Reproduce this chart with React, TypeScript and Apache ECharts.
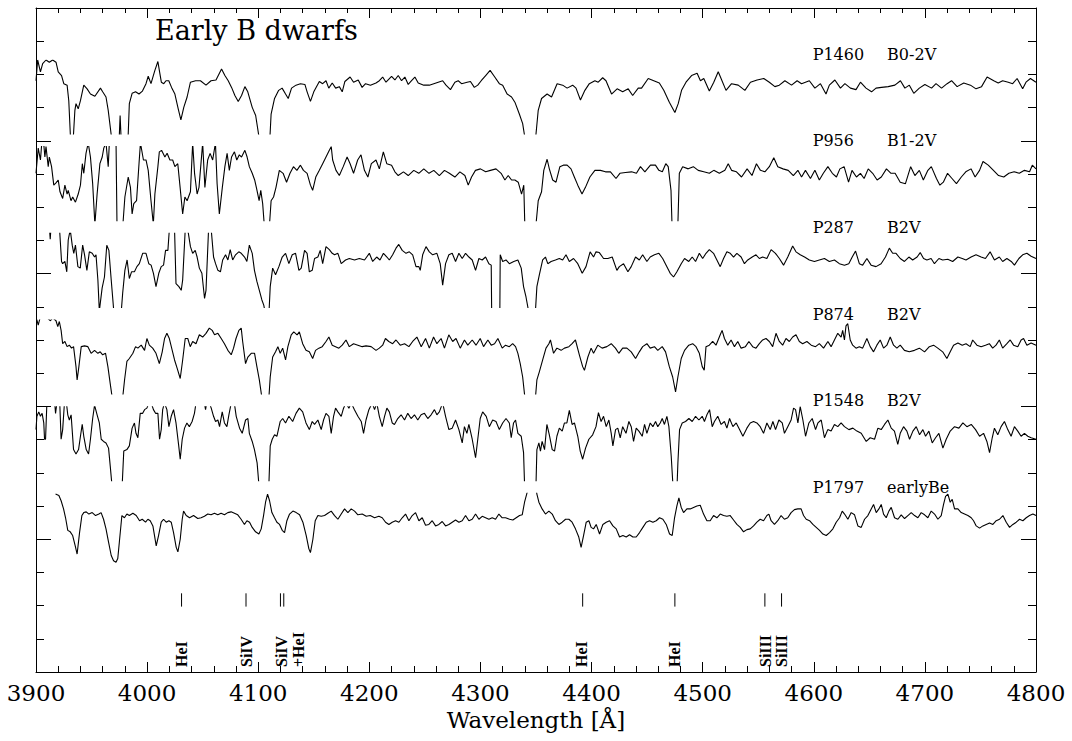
import React, { useEffect, useRef } from "react";
import * as echarts from "echarts";

// Wavelength range (Angstrom)
const WL_MIN = 3900;
const WL_MAX = 4800;

// Star labels
const STAR_NAMES = ["P1460", "P956", "P287", "P874", "P1548", "P1797"];
const STAR_TYPES = ["B0-2V", "B1-2V", "B2V", "B2V", "B2V", "earlyBe"];

// Spectral line markers
const LINE_WL = [4031, 4089, 4120, 4123, 4392, 4475, 4556, 4571];
const LINE_LABELS: [number, string][] = [
  [4031, "HeI"], [4089.4, "SiIV"], [4120.7, "SiIV"], [4136, "+HeI"],
  [4390.5, "HeI"], [4474.6, "HeI"], [4556.4, "SiIII"], [4570.9, "SiIII"],
];

// Relative flux within each plotting window (0 = lower clip, 1 = upper clip)
const P1460: [number, number][] = [
  [3900,.72],[3901.5,1.0],[3904,.84],[3906,.95],[3909,1.0],[3912,.97],[3915,1.0],[3918,.97],[3920,.84],[3923,.79],[3925,.68],[3928,.66],[3929.5,.45],[3931.5,-.2],[3933,-.2],[3935,.32],[3936,.41],[3938,.34],[3940,.45],[3943,.66],[3946,.61],[3949,.54],[3953,.51],[3958,.62],[3960,.57],[3963,.50],[3965,.32],[3968,-.05],[3970,-.2],[3974.5,-.2],[3975.7,.25],[3977,-.2],[3982.5,-.2],[3984,.41],[3986.5,.55],[3989.6,.57],[3992.7,.54],[3995.8,.58],[3999,.68],[4001,.78],[4003.5,.68],[4005.6,.79],[4007,.86],[4009.7,.98],[4011,.86],[4012.8,.70],[4015,.68],[4017,.72],[4019.5,.72],[4022,.63],[4025,.54],[4028,.34],[4030.4,.19],[4033,.36],[4036,.50],[4039,.70],[4043.6,.72],[4048,.72],[4053,.66],[4057.5,.72],[4062,.73],[4067,.88],[4070,.79],[4073,.72],[4076,.63],[4079,.52],[4082,.44],[4085,.52],[4088,.64],[4090.6,.57],[4094.6,.36],[4097.7,.25],[4100.8,-.05],[4102,-.2],[4110,-.2],[4111.6,.27],[4114.7,.48],[4118.4,.59],[4121.5,.62],[4124.6,.54],[4127,.48],[4130,.62],[4134,.66],[4138,.68],[4142,.67],[4144,.57],[4147,.44],[4150,.57],[4155,.71],[4158,.68],[4161,.72],[4163.5,.62],[4166.6,.69],[4169.7,.62],[4173,.64],[4175.6,.57],[4178,.71],[4182.7,.77],[4185.8,.70],[4190,.73],[4193.5,.63],[4196.6,.68],[4201,.66],[4206,.69],[4209,.72],[4212,.77],[4215,.70],[4220,.78],[4223,.73],[4226,.79],[4229,.72],[4232,.77],[4235,.67],[4238,.72],[4241,.77],[4244,.69],[4249,.66],[4254,.66],[4260,.69],[4266,.72],[4269,.66],[4273,.60],[4277,.70],[4280,.72],[4283,.68],[4288,.70],[4291,.71],[4294.5,.63],[4297.6,.66],[4300.7,.72],[4304.7,.79],[4308.7,.86],[4312.4,.78],[4317,.68],[4320,.66],[4324,.54],[4328,.50],[4331,.43],[4335,.27],[4338,.14],[4340,-.05],[4342,-.2],[4349,-.2],[4350,0],[4352,.32],[4355,.48],[4360,.54],[4364,.50],[4369,.68],[4374,.66],[4378,.62],[4383,.66],[4386,.62],[4390,.46],[4394,.59],[4398,.68],[4403,.72],[4406,.70],[4410,.76],[4413,.72],[4418,.54],[4423,.61],[4428,.57],[4433,.61],[4437,.52],[4442,.62],[4445,.62],[4451,.75],[4456,.72],[4461,.69],[4465,.59],[4470,.43],[4475,.29],[4478,.41],[4481,.59],[4485,.70],[4490,.79],[4495,.82],[4498,.72],[4501,.75],[4506,.58],[4510,.70],[4514,.84],[4516,.77],[4521,.59],[4526,.68],[4532,.66],[4538,.59],[4543,.70],[4549,.73],[4555,.75],[4560,.70],[4565,.64],[4569,.66],[4574,.72],[4580,.66],[4585,.72],[4589,.68],[4596,.72],[4601,.62],[4606,.68],[4611,.54],[4614,.66],[4619,.73],[4624,.62],[4628,.68],[4633,.62],[4638,.60],[4642,.70],[4647,.62],[4652,.57],[4656,.62],[4661,.63],[4667,.64],[4673,.66],[4678,.72],[4682,.62],[4686,.66],[4690,.55],[4695,.62],[4700,.67],[4706,.62],[4710,.68],[4715,.62],[4720,.68],[4724,.72],[4729,.64],[4735,.69],[4741,.66],[4746,.61],[4751,.64],[4756,.77],[4762,.72],[4766,.69],[4770,.72],[4775,.70],[4779,.68],[4783,.75],[4788,.61],[4791,.70],[4795,.75],[4800,.70],
];

const P956: [number, number][] = [
  [3900,.64],[3902,.98],[3904,.82],[3906,1.2],[3908,.86],[3909,1.0],[3911,.73],[3912,.86],[3914,.73],[3916,.48],[3918,.51],[3920,.55],[3921.6,.39],[3924,.30],[3926,.48],[3928,.36],[3929,.41],[3931.5,.27],[3933,.32],[3935.5,.25],[3938,.36],[3940,.48],[3941.7,.77],[3943,.64],[3945,.91],[3947,1.05],[3949,.86],[3951,.50],[3953,-.05],[3955,.36],[3957.5,.77],[3959.6,.86],[3961,.98],[3963,1.05],[3965,.73],[3966,1.05],[3968,1.05],[3972,1.1],[3973,-.2],[3977.5,-.2],[3980,.32],[3983,.59],[3985,.45],[3986.5,.09],[3988,.23],[3990.5,.27],[3992.7,.77],[3994,1.05],[3996.7,.82],[3999,.82],[4001,.68],[4003.5,.27],[4005.6,-.05],[4007,.36],[4009.7,.73],[4011,.93],[4013,.95],[4016,.86],[4018,.91],[4020.5,.82],[4023,.82],[4025,.73],[4027.6,.77],[4029.7,.45],[4032,.09],[4034,.32],[4036,.27],[4039,.39],[4041,1.05],[4042.7,.64],[4045,.36],[4046.7,.45],[4050,1.05],[4052,.45],[4054.5,.82],[4056.7,.91],[4059,.82],[4061.5,1.05],[4063,.50],[4065,.09],[4067.7,.45],[4070,.73],[4072,.91],[4074,.68],[4076,.86],[4078.6,.93],[4080.7,.82],[4083,.89],[4085,.86],[4088,.95],[4090,.86],[4092,.73],[4094.6,.64],[4096.8,.55],[4098.6,.43],[4100.8,.27],[4102.3,.41],[4104,.23],[4105.4,-.05],[4107,-.2],[4109.5,-.2],[4111.6,.27],[4113.8,.32],[4116,.45],[4119,.68],[4122.4,.64],[4125.5,.52],[4128.6,.64],[4131.7,.73],[4134.8,.68],[4138,.75],[4140.7,.68],[4144,.64],[4147,.48],[4149,.41],[4151.8,.59],[4155,.68],[4158,.77],[4161,.86],[4164,.95],[4165.7,1.0],[4167,.82],[4170,.68],[4173,.61],[4176.5,.73],[4180,.86],[4182.7,.77],[4185.8,.64],[4189.5,.82],[4192.5,.89],[4195.6,.68],[4198.7,.59],[4201.8,.77],[4206,.82],[4209,.70],[4212.6,.93],[4215.7,.77],[4220,.75],[4223,.66],[4226,.61],[4230.7,.66],[4235,.61],[4240,.68],[4244.5,.64],[4249,.70],[4253.7,.64],[4258,.68],[4263,.61],[4267.6,.68],[4272,.64],[4277,.59],[4281.5,.66],[4286,.61],[4289,.48],[4292,.59],[4295.5,.68],[4300,.70],[4304.7,.66],[4309,.68],[4314,.70],[4318.6,.64],[4322,.55],[4325,.61],[4328,.55],[4331,.55],[4334,.52],[4337,.36],[4339,.48],[4340,-.1],[4342,-.2],[4349,-.2],[4350,-.05],[4352,.27],[4355,.39],[4357,.68],[4360,.83],[4362,.70],[4365,.55],[4368,.52],[4371.5,.73],[4374.6,.75],[4378,.75],[4381.5,.70],[4384.5,.59],[4387.6,.48],[4391.4,.36],[4394.5,.45],[4398.5,.59],[4403,.68],[4408,.68],[4412.5,.66],[4417,.66],[4422,.57],[4425.5,.64],[4430.5,.65],[4436,.66],[4440.4,.64],[4444,.73],[4448,.66],[4453,.75],[4457.5,.75],[4460.6,.68],[4463.7,.66],[4466.8,.77],[4469,.73],[4471.5,.41],[4472.5,-.1],[4474,-.3],[4477,-.3],[4477.7,-.05],[4479,.64],[4482,.73],[4487,.70],[4491.6,.73],[4496,.68],[4501,.66],[4506,.64],[4510,.68],[4515,.64],[4520,.68],[4523,.77],[4526,.68],[4530.4,.66],[4535,.59],[4540,.70],[4544.4,.61],[4548.4,.77],[4552,.68],[4556,.66],[4560,.73],[4564,.85],[4567.6,.73],[4572.3,.70],[4577,.68],[4581.6,.61],[4585.7,.68],[4589,.59],[4592.5,.68],[4597,.57],[4601,.68],[4605,.55],[4608.6,.64],[4612.7,.73],[4616.7,.64],[4620.4,.59],[4623.5,.70],[4627.3,.73],[4631.3,.52],[4634.4,.68],[4638.4,.59],[4642,.64],[4645.3,.57],[4649,.70],[4653,.64],[4657,.55],[4660.8,.59],[4665.4,.70],[4669.5,.64],[4673.2,.64],[4677.8,.52],[4682.5,.50],[4687.2,.73],[4691,.61],[4695,.68],[4698.6,.55],[4702.7,.68],[4705.8,.73],[4710.4,.57],[4713.5,.48],[4716.6,.52],[4720.4,.64],[4724.4,.57],[4728.4,.50],[4732.8,.59],[4736.8,.66],[4741.5,.70],[4745.2,.59],[4749.2,.68],[4752.3,.80],[4757,.75],[4761.7,.68],[4766.3,.61],[4771,.59],[4775.6,.64],[4780.3,.66],[4785,.64],[4789.6,.68],[4794.2,.66],[4796.7,.75],[4800,.70],
];

const P287: [number, number][] = [
  [3900,1.2],[3911.5,1.2],[3912.8,.92],[3914,1.2],[3920.6,1.2],[3923,.62],[3924,.59],[3926,.62],[3927.7,.48],[3929,.91],[3930.8,1.05],[3932.6,.84],[3934,.73],[3935.5,.84],[3937.7,.55],[3939.8,.53],[3942,.84],[3943.7,.71],[3945.8,.50],[3948,.75],[3950.6,.73],[3952.7,.68],[3954,.71],[3955.7,.37],[3957,-.05],[3959.5,.26],[3961.6,.41],[3963.7,.84],[3965.6,.77],[3967.7,.37],[3970,-.05],[3972,-.2],[3976,-.2],[3978,.19],[3980,.50],[3982,.64],[3984,.39],[3986,.48],[3988.6,.48],[3990.8,.55],[3993,.59],[3996,.73],[3999,.73],[4001.5,.59],[4003.6,.57],[4005.7,.46],[4008,.28],[4010.5,.46],[4012.7,.55],[4014.8,.57],[4016.6,.77],[4018.7,.77],[4020,1.05],[4021.7,1.2],[4024.7,1.05],[4026,.32],[4028.6,.28],[4030.7,.23],[4032,.37],[4034.3,1.05],[4036.6,1.05],[4039,.82],[4041,.73],[4043.3,.77],[4045,.68],[4047,.53],[4049.3,.46],[4051.7,.12],[4053,.23],[4055.3,1.05],[4057.7,1.05],[4059.8,.68],[4061.6,.59],[4063.7,.50],[4066,.48],[4068,.64],[4070.6,.71],[4072.7,.64],[4074.8,.78],[4077,.64],[4079.6,.71],[4082.5,.75],[4084.7,.73],[4087.7,.68],[4089.8,.62],[4092,.84],[4094.6,.73],[4096.6,.50],[4098.8,.35],[4101,.23],[4103.3,.10],[4105,.03],[4106.6,-.1],[4108,-.2],[4109.6,-.1],[4110.8,.28],[4113,.53],[4115.6,.44],[4118.6,.55],[4121.6,.68],[4124.6,.73],[4127.6,.59],[4130.6,.71],[4133.6,.73],[4136.6,.50],[4138.7,.53],[4141.7,.77],[4144,.73],[4146,.48],[4148.6,.50],[4150.7,.66],[4153.7,.68],[4155.8,.77],[4158,.59],[4161,.82],[4164,.78],[4166.6,.73],[4168.7,.71],[4171.7,.73],[4174.7,.59],[4178.6,.64],[4182,.66],[4186.7,.64],[4191,.66],[4195.7,.64],[4200,.73],[4203,.62],[4206.6,.68],[4209.6,.64],[4212.7,.73],[4215.8,.68],[4218,.64],[4221,.71],[4224,.80],[4226.5,.85],[4229.6,.77],[4233,.73],[4236,.75],[4239,.71],[4242,.55],[4244.6,.55],[4245.8,.50],[4248,.71],[4251,.82],[4254,.75],[4257,.71],[4260.8,.73],[4263.8,.59],[4266,.30],[4268.6,.59],[4271.6,.71],[4274.6,.73],[4277.6,.62],[4280.6,.73],[4283.6,.66],[4286.6,.73],[4289.6,.68],[4292.6,.64],[4295.6,.50],[4298.6,.66],[4301.6,.64],[4304.6,.68],[4307.6,.59],[4309.7,.57],[4310.2,-.2],[4317.4,-.2],[4317.8,.71],[4320,.62],[4323,.64],[4326,.59],[4330,.62],[4333.7,.64],[4336.7,.53],[4338.8,.28],[4341,.14],[4343.3,-.05],[4345,-.2],[4349,-.2],[4349.5,-.05],[4350.8,.28],[4353,.44],[4356,.64],[4358.5,.68],[4360.6,.59],[4363.6,.62],[4367.5,.64],[4371,.66],[4374,.64],[4377,.71],[4380,.62],[4383.8,.66],[4387.6,.59],[4391.6,.46],[4395,.55],[4398.7,.75],[4401.8,.68],[4404,.75],[4407,.74],[4410.8,.66],[4414.7,.66],[4418.6,.68],[4422.8,.50],[4425,.55],[4428.8,.59],[4432.7,.48],[4435.7,.55],[4439.6,.68],[4443,.64],[4446,.71],[4449.8,.62],[4452.8,.68],[4456.6,.71],[4460.6,.73],[4464,.66],[4467.8,.55],[4470.8,.46],[4473.8,.41],[4476.8,.48],[4480.7,.59],[4483.7,.66],[4487.5,.62],[4490.6,.68],[4493.6,.62],[4497,.73],[4500,.66],[4503,.73],[4506,.78],[4509.8,.73],[4512.8,.64],[4515.8,.55],[4518.8,.66],[4521.8,.75],[4524.8,.73],[4527.8,.68],[4530.8,.73],[4534.6,.68],[4537.6,.59],[4540.6,.64],[4544.6,.68],[4548,.71],[4551,.66],[4554,.68],[4557.8,.66],[4561.6,.78],[4565.5,.73],[4569,.66],[4572.8,.57],[4576.6,.68],[4581,.83],[4584,.75],[4587.8,.71],[4591.7,.68],[4596,.64],[4600.6,.62],[4605,.64],[4609.6,.66],[4614,.62],[4618.6,.64],[4623,.59],[4627.6,.57],[4631.5,.59],[4634.6,.68],[4637.6,.76],[4641,.59],[4644,.57],[4647.8,.66],[4651.6,.57],[4656,.55],[4660.6,.59],[4664.5,.68],[4668,.80],[4671,.73],[4674,.73],[4677.8,.66],[4681.6,.62],[4685.6,.68],[4689,.64],[4693,.68],[4695.8,.74],[4698.8,.66],[4701.8,.64],[4705.6,.66],[4708.6,.59],[4712.6,.66],[4716,.64],[4720.6,.65],[4725,.62],[4729.7,.68],[4733.6,.66],[4737,.64],[4741.6,.68],[4746,.71],[4750.6,.68],[4754.5,.66],[4758.7,.75],[4762.6,.64],[4767,.68],[4770,.62],[4773.8,.66],[4777.7,.62],[4780.6,.57],[4784.6,.66],[4788,.71],[4791.8,.73],[4795.6,.69],[4800,.66],
];

const P874: [number, number][] = [
  [3900,1.05],[3902,.93],[3904,1.05],[3910,1.03],[3913,.99],[3915,1.03],[3918,.99],[3919.6,.91],[3921,.98],[3922.6,.86],[3924,.68],[3926,.71],[3928,.64],[3930,.66],[3932,.62],[3933.8,.64],[3936,.37],[3937,.19],[3938.6,.37],[3940.7,.64],[3943.7,.65],[3946.7,.64],[3949.6,.55],[3952.7,.59],[3955.7,.55],[3957.8,.57],[3960,.53],[3962.6,.55],[3964.7,.37],[3966.8,.14],[3968.6,-.05],[3970,-.2],[3977,-.2],[3978,-.05],[3979.7,.19],[3981.8,.44],[3984,.48],[3987.2,.55],[3989.6,.64],[3991.7,.62],[3994.7,.66],[3997.7,.59],[3999.8,.75],[4002,.66],[4005,.62],[4008,.55],[4011,.41],[4013.6,.57],[4015.7,.75],[4017.8,.82],[4020,.75],[4022.6,.59],[4024.7,.46],[4027,.35],[4029.8,.21],[4032,.46],[4034.3,.75],[4036.6,.75],[4038.8,.64],[4041,.71],[4044,.68],[4047,.80],[4050,.77],[4053,.82],[4056,.89],[4058.6,.86],[4060.7,.80],[4063.7,.82],[4066.7,.75],[4069.6,.68],[4072.7,.59],[4075.7,.53],[4077.8,.62],[4080,.75],[4082.6,.86],[4084.7,.89],[4086,.71],[4088.6,.41],[4090.7,.50],[4093.7,.55],[4096.7,.55],[4098.8,.37],[4101,.19],[4103.3,-.05],[4105,-.2],[4109,-.2],[4109.6,-.05],[4110.8,.23],[4113,.50],[4115.6,.57],[4117.7,.64],[4119.8,.55],[4122,.62],[4124.6,.46],[4126.7,.64],[4129.7,.80],[4132,.84],[4135,.80],[4137,.84],[4140,.68],[4143,.59],[4146,.57],[4149,.48],[4151.6,.59],[4154.6,.62],[4157.6,.64],[4161,.71],[4163.6,.77],[4166.6,.66],[4169.6,.64],[4172.6,.62],[4175.6,.66],[4179,.73],[4182,.64],[4185.8,.68],[4189.7,.66],[4193.6,.64],[4197,.65],[4201.6,.64],[4206,.59],[4209,.62],[4212,.66],[4214.5,.75],[4217.5,.71],[4221,.68],[4224,.73],[4227.8,.66],[4231.7,.68],[4235.6,.64],[4239,.71],[4242.8,.77],[4246.7,.64],[4250.6,.75],[4254,.62],[4257.8,.77],[4260.8,.68],[4264.6,.75],[4267.6,.62],[4271.5,.80],[4275,.71],[4278,.75],[4281.8,.62],[4285.6,.73],[4288.6,.66],[4292.6,.73],[4296,.66],[4299.8,.75],[4302.8,.64],[4306.7,.73],[4309.7,.66],[4312.7,.68],[4315.7,.75],[4319.6,.62],[4322.6,.66],[4326,.64],[4329,.68],[4331.6,.64],[4333.7,.55],[4335.8,.41],[4338,.23],[4340,-.05],[4342,-.2],[4349,-.2],[4349.5,-.05],[4350.8,.19],[4353,.30],[4356,.46],[4359,.62],[4361.6,.68],[4363,.73],[4365.8,.55],[4368.8,.62],[4372.6,.59],[4375.6,.62],[4379.6,.64],[4382.5,.68],[4385.5,.73],[4389,.53],[4392,.37],[4393.6,.32],[4396.7,.50],[4399.6,.62],[4401.8,.55],[4405.6,.66],[4409.5,.62],[4413.8,.64],[4417.7,.68],[4421.5,.62],[4424.5,.55],[4428,.62],[4431.8,.62],[4435.7,.57],[4439.6,.48],[4443,.57],[4446,.64],[4449.8,.68],[4452.8,.62],[4456.6,.64],[4459.6,.59],[4463.6,.64],[4466.6,.57],[4470,.37],[4473,.23],[4475.6,.03],[4477.7,.23],[4480.7,.48],[4483.7,.59],[4487.5,.66],[4491,.68],[4494,.64],[4497,.55],[4499.6,.37],[4501.4,.32],[4503,.64],[4506,.66],[4509,.71],[4512,.66],[4515.8,.80],[4517.5,.86],[4519.6,.75],[4522.6,.66],[4525.6,.73],[4528.6,.64],[4531.6,.71],[4534.6,.62],[4538.5,.64],[4541.6,.71],[4545,.64],[4548,.62],[4551,.68],[4554,.73],[4557,.75],[4560,.71],[4563,.64],[4566,.82],[4569,.71],[4572,.66],[4575,.75],[4578,.71],[4581,.77],[4584,.80],[4587,.71],[4590,.68],[4593.8,.71],[4597.7,.66],[4601.6,.64],[4605,.68],[4608.8,.62],[4612.7,.71],[4615.6,.64],[4618.6,.73],[4621.6,.82],[4624.6,.77],[4626,.86],[4627.6,.73],[4629,.92],[4630.6,.95],[4632.8,.73],[4635,.66],[4638,.62],[4641,.64],[4644,.62],[4647.8,.75],[4650.8,.64],[4653.8,.57],[4656.8,.66],[4659.8,.73],[4662.8,.62],[4665.8,.66],[4668.8,.77],[4671.8,.66],[4674.8,.62],[4677.8,.66],[4681.6,.59],[4686,.57],[4690.6,.59],[4695,.62],[4699.7,.57],[4704,.64],[4707.8,.66],[4711.6,.62],[4716,.57],[4719.8,.48],[4722.8,.57],[4725.8,.66],[4729.7,.69],[4733.6,.66],[4737,.68],[4740.8,.64],[4743,.73],[4746.8,.66],[4750.6,.64],[4754.5,.66],[4758,.68],[4761,.62],[4764,.66],[4767,.73],[4770,.62],[4773.8,.68],[4776.8,.73],[4779.8,.66],[4783.6,.64],[4786.6,.73],[4788.8,.75],[4791.8,.66],[4795.6,.69],[4800,.66],
];

const P1548: [number, number][] = [
  [3900,.69],[3900.8,.87],[3902.5,.93],[3904,.87],[3905.5,.91],[3907,.78],[3907.7,.56],[3908.6,.56],[3909.8,1.05],[3912,1.2],[3916,1.2],[3917.6,.91],[3918.8,1.05],[3921,1.2],[3922.6,.56],[3924,.69],[3925.6,1.05],[3927,1.1],[3928.6,.89],[3930,.82],[3931.6,.89],[3933.8,.42],[3936,.36],[3938.3,.42],[3940,.60],[3941.6,.76],[3943,.60],[3945.2,.42],[3947.3,.36],[3949,.56],[3951,.84],[3952.7,1.02],[3955,.89],[3957,.78],[3958.7,.56],[3960.8,.53],[3963,.51],[3965.3,.44],[3966.8,.20],[3968.3,-.05],[3970,-.2],[3977,-.2],[3977.6,-.05],[3979,.40],[3981.8,.42],[3984,.47],[3986.5,.71],[3988.6,.78],[3990,.64],[3991.7,.58],[3993.8,.91],[3996,.91],[3997.7,.96],[3999.8,.98],[4001.6,1.05],[4003.7,1.05],[4005.7,.96],[4007.6,.91],[4009.7,.91],[4011.2,.56],[4012.7,.69],[4014,.96],[4015.6,1.05],[4017.8,.96],[4019.6,.73],[4021.7,.87],[4023.8,.96],[4026,.78],[4028.3,.49],[4029.8,.29],[4031.6,.56],[4033.7,.71],[4035.8,.78],[4038,.73],[4040.5,.80],[4042.6,.91],[4044,1.05],[4048,1.2],[4051.5,1.05],[4052.6,.96],[4053.6,1.05],[4056,1.05],[4057.7,.98],[4059.8,.87],[4061.6,.80],[4063.7,.82],[4065.2,.73],[4067.6,.93],[4069.6,.78],[4071.8,.73],[4073.6,.89],[4075.7,1.05],[4078,1.1],[4080.2,.87],[4083.2,.71],[4085.6,.64],[4088.6,.82],[4090.7,.84],[4092,.64],[4094.6,.53],[4096.6,.42],[4099,.24],[4100.6,-.05],[4102,-.2],[4109,-.2],[4109.6,-.05],[4110.8,.47],[4112.6,.56],[4114.7,.62],[4116.8,.60],[4119.8,.80],[4122,.84],[4124.6,.78],[4127.6,.87],[4131,.80],[4134,.91],[4137,.98],[4140,.93],[4143,.78],[4146,.69],[4148.6,.80],[4150.7,.76],[4153.7,.82],[4156.7,.69],[4158.8,.82],[4161,.91],[4163.6,.87],[4165.7,.64],[4167.8,.87],[4169.6,.98],[4171.7,.93],[4174.7,.87],[4176.8,.98],[4179,1.05],[4181.6,.98],[4183.7,1.05],[4186.6,.96],[4189.7,.87],[4192.7,.80],[4194.8,.64],[4197,.82],[4199.6,.96],[4202.6,1.05],[4204.7,.96],[4206.7,1.05],[4209,.87],[4211.6,.73],[4213.7,.87],[4215.8,.98],[4218,.93],[4220.6,.78],[4222.6,.76],[4225.6,.84],[4228.6,.89],[4231.7,.82],[4234.6,.91],[4237.6,.84],[4240.6,.89],[4243.6,.82],[4246.6,.89],[4249.6,.91],[4252.6,.84],[4255.6,.89],[4258.6,.96],[4260.8,.89],[4263,.93],[4266,1.05],[4268.6,.87],[4271.6,.69],[4274.6,.71],[4277.6,.82],[4280.6,.69],[4283.6,.51],[4285.6,.73],[4287.8,.64],[4289.6,.76],[4292.6,.56],[4295.6,.31],[4297.6,.56],[4299.8,.84],[4302,.93],[4305.2,.87],[4308,.73],[4311,.82],[4314,.80],[4317,.69],[4320,.78],[4323,.84],[4326,.78],[4327.7,.58],[4329.8,.78],[4331.6,.82],[4333.7,.64],[4336.7,.60],[4338.8,.38],[4339.7,-.05],[4341,-.2],[4349.5,-.2],[4350,-.05],[4350.8,.42],[4352.6,.51],[4354,.40],[4355.5,.53],[4357.7,.42],[4359.8,.76],[4362,.62],[4364.6,.42],[4366.7,.40],[4368.8,.60],[4371,.71],[4373.6,.67],[4375.6,.78],[4377.8,.78],[4380,.95],[4382.5,.76],[4384.6,.78],[4387.6,.60],[4389.8,.40],[4392,.29],[4394.6,.44],[4397.6,.56],[4401,.62],[4404,.73],[4406.2,.92],[4408.6,.80],[4410.8,.87],[4413.2,.73],[4415.6,.82],[4417.7,.64],[4419.2,.47],[4421.6,.69],[4423.6,.71],[4425.8,.58],[4428,.73],[4431,.64],[4433.6,.80],[4435.7,.73],[4437.8,.53],[4440.2,.71],[4442.6,.67],[4445.6,.60],[4447.7,.76],[4449.8,.64],[4452.8,.78],[4455.2,.73],[4457.6,.80],[4459.6,.73],[4461.8,.78],[4463.6,.84],[4465.6,.76],[4467.8,.87],[4469.6,.73],[4471.7,.33],[4473.2,-.05],[4474.5,-.3],[4476,-.3],[4477,-.05],[4477.7,.24],[4479.2,.69],[4481.6,.78],[4484.6,.80],[4487.6,.84],[4490.6,.80],[4493.6,.87],[4496.6,.82],[4499.6,.87],[4501.6,.80],[4503.8,.89],[4506.2,.96],[4508.6,.73],[4510.6,.80],[4513.6,.87],[4516.6,.76],[4519.6,.80],[4521.8,.71],[4524.2,.84],[4527.2,.73],[4530.2,.78],[4533.2,.69],[4536.2,.60],[4539.8,.71],[4542.8,.78],[4545.8,.80],[4548.8,.78],[4551.8,.73],[4554.8,.64],[4557.8,.78],[4560.8,.69],[4563.2,.80],[4565.6,.69],[4568.6,.82],[4571.6,.78],[4573.6,.64],[4576.6,.73],[4579.6,.82],[4581.8,.98],[4583.6,.96],[4585.7,.78],[4587.8,1.0],[4590.2,.82],[4592.6,.60],[4595.6,.78],[4598.6,.84],[4601.6,.69],[4603.7,.78],[4606.7,.82],[4609.6,.58],[4612.6,.69],[4615.6,.67],[4618.6,.76],[4621.6,.73],[4624.6,.78],[4627.6,.73],[4631.6,.69],[4635.2,.71],[4638.8,.67],[4642.7,.64],[4647.2,.53],[4650.8,.58],[4654.7,.56],[4657.7,.71],[4660.7,.69],[4663.7,.76],[4666.7,.82],[4669.7,.71],[4672.6,.67],[4675.6,.49],[4677.8,.64],[4680.8,.73],[4683.8,.67],[4686.2,.56],[4689.2,.67],[4692.2,.73],[4695.2,.62],[4698.2,.69],[4700.6,.60],[4703.6,.67],[4706.6,.51],[4709.6,.58],[4712.6,.64],[4716.2,.44],[4719.2,.56],[4722.8,.67],[4726.7,.73],[4730.6,.71],[4734.2,.78],[4737.8,.73],[4741.7,.76],[4745.6,.69],[4749.2,.60],[4752.8,.64],[4755.8,.53],[4758.2,.38],[4760.6,.58],[4762.6,.71],[4765.6,.62],[4768.6,.73],[4771.6,.80],[4774.6,.69],[4777.6,.60],[4780.6,.73],[4783.6,.67],[4786.6,.60],[4789.6,.64],[4792.6,.60],[4795.6,.58],[4800,.56],
];

const P1797: [number, number][] = [
  [3917.6,.99],[3920.6,.97],[3922.6,.90],[3924.8,.79],[3926.6,.67],[3928.6,.50],[3930.8,.48],[3933,.43],[3935.3,.29],[3937,.18],[3939.2,.47],[3941.3,.70],[3943,.74],[3945.2,.75],[3947.6,.72],[3950.6,.74],[3953.6,.70],[3956.6,.72],[3958.6,.74],[3960.8,.65],[3963,.52],[3965.3,.34],[3967.7,.16],[3969.8,.09],[3972,.07],[3973.6,.12],[3975,.34],[3977.3,.70],[3979.6,.67],[3981.8,.72],[3984,.70],[3987.2,.73],[3990.2,.70],[3993.2,.63],[3995.6,.65],[3998.6,.61],[4000.7,.65],[4002.8,.63],[4005.2,.56],[4008.2,.29],[4010.3,.43],[4012.7,.61],[4014.8,.65],[4017.2,.61],[4019.6,.63],[4021.7,.61],[4023.8,.47],[4026.2,.27],[4027.7,.21],[4029.8,.38],[4031.6,.65],[4032.8,.76],[4035.2,.70],[4038.2,.67],[4041.8,.70],[4045.6,.66],[4048.6,.67],[4051.6,.69],[4054.6,.72],[4057.6,.71],[4060.6,.73],[4063.6,.71],[4066.6,.73],[4069.6,.71],[4072.6,.74],[4075.6,.75],[4078.6,.73],[4081.6,.71],[4084.6,.65],[4087.6,.58],[4089.8,.63],[4092.2,.61],[4094.6,.54],[4097.6,.48],[4100.6,.45],[4102.7,.52],[4104.8,.70],[4106.6,.88],[4108.4,.99],[4110.2,.90],[4112.3,.74],[4114.7,.67],[4116.8,.61],[4119.2,.58],[4121.6,.50],[4123.7,.47],[4125.8,.63],[4128.2,.72],[4131.2,.76],[4134.2,.74],[4137.2,.71],[4140.2,.61],[4143.2,.43],[4145.6,.25],[4147,.20],[4149.2,.38],[4151.3,.63],[4153.7,.70],[4156.7,.69],[4159.7,.70],[4162.7,.73],[4165.7,.76],[4168.7,.70],[4171.7,.65],[4174.7,.72],[4177.7,.79],[4180.7,.74],[4183.7,.79],[4186.7,.76],[4189.7,.71],[4193.6,.72],[4197.2,.69],[4200.8,.70],[4204.7,.67],[4208.6,.69],[4211.6,.67],[4214.6,.61],[4217.6,.58],[4220.6,.61],[4223.6,.63],[4226.6,.61],[4229.6,.67],[4232.6,.72],[4235.6,.63],[4238.6,.70],[4241.6,.74],[4244.6,.63],[4247.6,.67],[4250.6,.57],[4253.6,.58],[4256.6,.63],[4259.6,.56],[4262.6,.58],[4265.6,.62],[4268.6,.56],[4271.6,.58],[4274.6,.61],[4277.6,.64],[4280.6,.61],[4283.6,.63],[4286.6,.70],[4289.6,.63],[4292.6,.65],[4295.6,.72],[4298.6,.65],[4301.6,.69],[4304.6,.67],[4307.6,.65],[4310.6,.67],[4313.6,.65],[4316.6,.72],[4319.6,.67],[4322.6,.67],[4326.2,.65],[4329.2,.64],[4332.2,.67],[4335.2,.70],[4337.6,.71],[4339.7,.88],[4341.8,1.0],[4343.6,1.1],[4349.6,1.1],[4350.8,.99],[4352.6,.88],[4355.5,.79],[4358.5,.72],[4361.6,.76],[4364.6,.72],[4367.5,.63],[4370.6,.58],[4373.6,.61],[4376.6,.65],[4379.6,.65],[4382.5,.61],[4385.5,.52],[4388.5,.41],[4390.6,.27],[4392.8,.43],[4395.2,.61],[4397.6,.63],[4399.6,.54],[4401.8,.52],[4404.2,.58],[4407.2,.45],[4410.2,.58],[4413.2,.61],[4416.2,.63],[4419.2,.56],[4422.2,.52],[4425.2,.41],[4428.2,.43],[4431.2,.41],[4434.2,.44],[4437.2,.41],[4440.2,.41],[4443.2,.47],[4446.2,.54],[4449.2,.61],[4452.2,.63],[4455.2,.61],[4458.2,.63],[4461.2,.67],[4464.2,.65],[4467.2,.58],[4470.2,.45],[4472.6,.43],[4474.7,.67],[4476.8,.83],[4478.6,.94],[4480.7,.81],[4482.8,.74],[4485.8,.79],[4488.8,.79],[4491.8,.81],[4494.8,.83],[4497.8,.84],[4500.8,.72],[4503.8,.63],[4506.8,.63],[4509.8,.70],[4512.8,.67],[4515.8,.72],[4518.8,.70],[4521.8,.69],[4524.8,.70],[4527.8,.64],[4530.8,.58],[4533.8,.54],[4536.8,.48],[4539.8,.51],[4542.8,.52],[4545.8,.56],[4548.8,.61],[4551.8,.65],[4554.8,.63],[4557.8,.70],[4559.6,.72],[4561.6,.63],[4564.6,.58],[4567.6,.63],[4570.6,.70],[4573.6,.65],[4576.6,.67],[4579.6,.74],[4582.6,.78],[4585.6,.79],[4588.6,.79],[4590.8,.70],[4593.2,.65],[4596.2,.63],[4599.2,.58],[4602.2,.54],[4605.2,.50],[4608.2,.45],[4611.2,.43],[4614.2,.47],[4617.2,.52],[4620.2,.61],[4623.2,.67],[4625.6,.76],[4627.7,.72],[4630.7,.65],[4633.7,.74],[4636.7,.71],[4639.7,.56],[4642.7,.54],[4645.7,.65],[4648.7,.70],[4651.7,.79],[4653.8,.85],[4656.2,.74],[4658.6,.79],[4660.7,.85],[4662.8,.72],[4665.2,.67],[4667.6,.76],[4669.7,.81],[4672.7,.67],[4675.7,.65],[4678.7,.71],[4681.7,.66],[4684.7,.70],[4687.7,.74],[4690.7,.70],[4693.7,.67],[4696.7,.74],[4699.7,.71],[4702.7,.67],[4705.7,.76],[4708.7,.72],[4711.7,.65],[4714.7,.70],[4716.8,.85],[4718.6,.96],[4720.7,.99],[4722.8,.88],[4724.6,.92],[4726.7,.79],[4729.7,.79],[4732.7,.74],[4735.7,.72],[4738.7,.70],[4741.7,.67],[4743.8,.63],[4746.2,.56],[4749.2,.53],[4752.2,.56],[4755.2,.58],[4758.2,.60],[4761.2,.58],[4764.2,.63],[4767.2,.65],[4770.2,.70],[4773.2,.61],[4776.2,.54],[4779.2,.58],[4782.2,.61],[4785.2,.65],[4788.2,.63],[4791.2,.67],[4794.2,.70],[4797.2,.72],[4800,.70],
];

const SPECTRA = [P1460, P956, P287, P874, P1548, P1797];

// Layout
const W = 1072;
const H = 741;
const PLOT = { left: 36, top: 8, width: 1000, height: 664 };
const BAND_TOP0 = 60;
const BAND_STEP = 86.67;
const BAND_H = 74;
const MARK_Y = [1.97, 2.37];
const SERIF = "DejaVu Serif";
const BLACK = "#000";

function buildOption() {
  const grids: any[] = [{ ...PLOT }];
  SPECTRA.forEach((_, k) => {
    grids.push({ left: PLOT.left, width: PLOT.width, top: BAND_TOP0 + k * BAND_STEP, height: BAND_H });
  });
  const axisLine = { show: true, onZero: false, lineStyle: { color: BLACK, width: 1 } };
  const xAxes: any[] = [
    {
      gridIndex: 0, type: "value", position: "bottom", min: WL_MIN, max: WL_MAX, interval: 100,
      axisLine, axisTick: { show: true, inside: true, length: 10, lineStyle: { color: BLACK, width: 1 } },
      minorTick: { show: true, splitNumber: 5, length: 6, lineStyle: { color: BLACK, width: 1 } },
      axisLabel: { show: true, fontFamily: SERIF, fontSize: 23, color: BLACK, margin: 9, formatter: (v: number) => String(v) },
      splitLine: { show: false }, minorSplitLine: { show: false },
      name: "Wavelength [Å]", nameLocation: "middle", nameGap: 36,
      nameTextStyle: { fontFamily: SERIF, fontSize: 23, color: BLACK },
    },
    {
      gridIndex: 0, type: "value", position: "top", min: WL_MIN, max: WL_MAX, interval: 100,
      axisLine, axisTick: { show: true, inside: true, length: 10, lineStyle: { color: BLACK, width: 1 } },
      minorTick: { show: true, splitNumber: 5, length: 5, lineStyle: { color: BLACK, width: 1 } },
      axisLabel: { show: false }, splitLine: { show: false },
    },
  ];
  const yAxes: any[] = ["left", "right"].map((pos) => ({
    gridIndex: 0, type: "value", position: pos, min: 0, max: 20, interval: 4,
    axisLine, axisTick: { show: true, inside: true, length: 15, lineStyle: { color: BLACK, width: 1 } },
    minorTick: { show: true, splitNumber: 4, length: 8, lineStyle: { color: BLACK, width: 1 } },
    axisLabel: { show: false }, splitLine: { show: false },
  }));
  SPECTRA.forEach((_, k) => {
    xAxes.push({ gridIndex: k + 1, type: "value", min: WL_MIN, max: WL_MAX, show: false });
    yAxes.push({ gridIndex: k + 1, type: "value", min: 0, max: 1, show: false });
  });

  const series: any[] = SPECTRA.map((data, k) => ({
    type: "line", name: STAR_NAMES[k], xAxisIndex: k + 2, yAxisIndex: k + 2,
    data, showSymbol: false, symbol: "none", clip: true, silent: true,
    lineStyle: { color: BLACK, width: 1.1 },
  }));
  LINE_WL.forEach((wl) => {
    series.push({
      type: "line", xAxisIndex: 0, yAxisIndex: 0, silent: true,
      data: [[wl, MARK_Y[0]], [wl, MARK_Y[1]]], showSymbol: false, symbol: "none",
      lineStyle: { color: BLACK, width: 1 },
    });
  });

  return {
    animation: false,
    backgroundColor: "#fff",
    grid: grids,
    xAxis: xAxes,
    yAxis: yAxes,
    series,
  };
}

export default function App() {
  const ref = useRef<HTMLDivElement>(null);
  useEffect(() => {
    if (!ref.current) return;
    const chart = echarts.init(ref.current, null, { renderer: "svg" });
    chart.setOption(buildOption());
    const px = (wl: number) => chart.convertToPixel({ xAxisIndex: 0 }, wl) as number;
    const graphics: any[] = [
      {
        type: "text", x: 155, y: 30,
        style: { text: "Early B dwarfs", fontFamily: SERIF, fontSize: 27, fill: BLACK, align: "left", verticalAlign: "middle" },
      },
    ];
    STAR_NAMES.forEach((name, k) => {
      const y = BAND_TOP0 + k * BAND_STEP - 6;
      graphics.push({
        type: "text", x: px(4599), y,
        style: { text: name, fontFamily: SERIF, fontSize: 16, fill: BLACK, align: "left", verticalAlign: "middle" },
      });
      graphics.push({
        type: "text", x: px(4666), y,
        style: { text: STAR_TYPES[k], fontFamily: SERIF, fontSize: 16, fill: BLACK, align: "left", verticalAlign: "middle" },
      });
    });
    LINE_LABELS.forEach(([wl, label]) => {
      graphics.push({
        type: "text", x: px(wl), y: 667, rotation: Math.PI / 2,
        style: { text: label, fontFamily: "Liberation Serif", fontWeight: "bold", fontSize: 16, fill: BLACK, align: "left", verticalAlign: "middle" },
      });
    });
    chart.setOption({ graphic: graphics });
    return () => chart.dispose();
  }, []);
  return <div ref={ref} style={{ position: "fixed", left: 0, top: 0, width: W, height: H }} />;
}
